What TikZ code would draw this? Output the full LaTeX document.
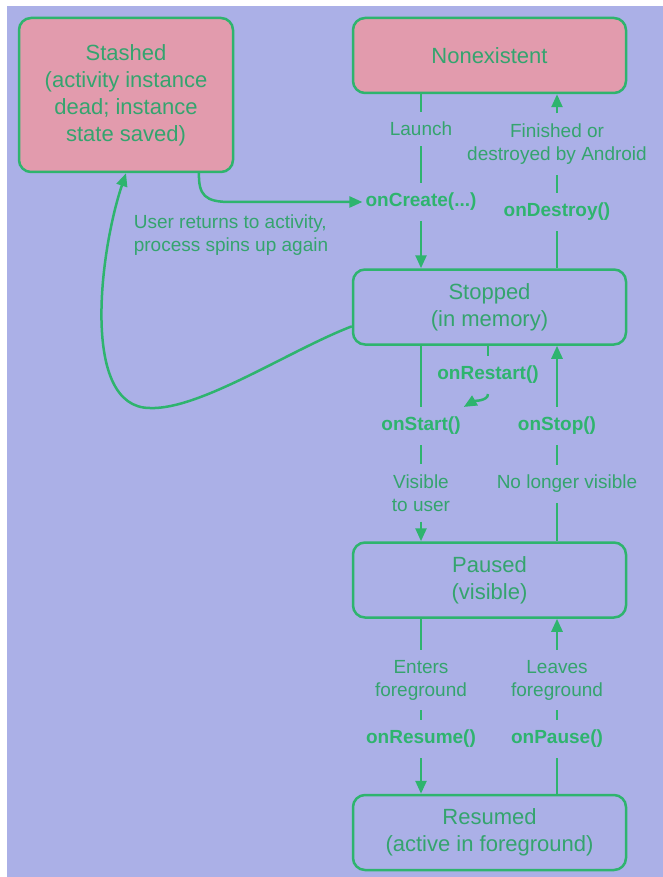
\documentclass[tikz,border=0pt]{standalone}
\usepackage{fontspec}
\setmainfont{Liberation Sans}
\usepackage{tikz}
\usetikzlibrary{arrows.meta}

\definecolor{lavender}{RGB}{171,176,231}
\definecolor{rosy}{RGB}{226,155,173}
\definecolor{leaf}{RGB}{46,180,110}
\definecolor{leaftext}{RGB}{52,164,110}

\begin{document}
\begin{tikzpicture}[x=1pt,y=-1pt]
% % Styles
 \tikzset{
 	state/.style={draw=leaf, line width=2.5pt, rounded corners=12pt,
 		minimum width=273pt, minimum height=75pt, align=center,
 		text=leaftext, font=\fontsize{22}{27}\selectfont},
 	dead/.style={state, fill=rosy},
 	lbl/.style={text=leaftext, align=center, inner xsep=3pt, inner ysep=10pt,
 		font=\fontsize{19}{23}\selectfont},
 	call/.style={lbl, text=leaf, font=\fontsize{19}{23}\selectfont\bfseries},
 	flow/.style={draw=leaf, line width=2.5pt},
 	>={Triangle[length=13pt,width=11pt]}
 }
% % Backdrop
 \fill[white] (0,0) rectangle (663,877);
 \fill[lavender] (7,6) rectangle (663,877);
% % States
 \node[dead, minimum width=214pt, minimum height=154pt] (stashed) at (126,95)
 	{Stashed\\(activity instance\\dead; instance\\state saved)};
 \node[dead] (nonexistent) at (489.5,55.5) {Nonexistent};
 \node[state] (stopped) at (489.5,307) {Stopped\\(in memory)};
 \node[state] (paused) at (489.5,580) {Paused\\(visible)};
 \node[state] (resumed) at (489.5,832.5) {Resumed\\(active in foreground)};
% % Labels on the transitions
 \node[lbl] (launch) at (421,129) {Launch};
 \node[call] (oncreate) at (421,202) {onCreate(...)};
 \node[lbl] (finished) at (557,144) {Finished or\\destroyed by Android};
 \node[call] (ondestroy) at (557,212) {onDestroy()};
 \node[call] (onrestart) at (488,375) {onRestart()};
 \node[call] (onstart) at (421,426) {onStart()};
 \node[call] (onstop) at (557,426) {onStop()};
 \node[lbl] (visible) at (421,493) {Visible\\to user};
 \node[lbl] (nolonger) at (567,484) {No longer visible};
 \node[lbl] (enters) at (421,680) {Enters\\foreground};
 \node[lbl] (leaves) at (557,680) {Leaves\\foreground};
 \node[call] (onresume) at (421,739) {onResume()};
 \node[call] (onpause) at (557,739) {onPause()};
 \node[lbl, align=left] (userback) at (231,235) {User returns to activity,\\process spins up again};
% % Transitions
 \draw[flow,->] (nonexistent.south -| launch) -- (launch) -- (oncreate) -- (stopped.north -| oncreate);
 \draw[flow,->] (stopped.north -| ondestroy) -- (ondestroy) -- (finished) -- (nonexistent.south -| finished);
 \draw[flow,->] (stopped.south -| onstart) -- (onstart) -- (visible) -- (paused.north -| visible);
 \draw[flow,->] (paused.north -| onstop) -- (nolonger.south -| onstop)
 	(nolonger.north -| onstop) -- (onstop) -- (stopped.south -| onstop);
 \draw[flow,->] (paused.south -| enters) -- (enters) -- (onresume) -- (resumed.north -| onresume);
 \draw[flow,->] (resumed.north -| onpause) -- (onpause) -- (leaves) -- (paused.south -| leaves);
 % restart hook
 \draw[flow] (stopped.south -| onrestart) -- (onrestart);
 \draw[flow,->] (onrestart.south) .. controls (488,401) and (474,401) .. (onstart.north east);
 % killed while stopped, and back again
 \draw[flow,->] (stopped.188) .. controls (290,350) and (200,410) .. (150,408)
 	.. controls (80,408) and (100,250) .. (stashed.south);
 \draw[flow,->] (stashed.-47) .. controls (198.5,195) and (205,202) .. (230,202) -- (oncreate.west);
\end{tikzpicture}
\end{document}
